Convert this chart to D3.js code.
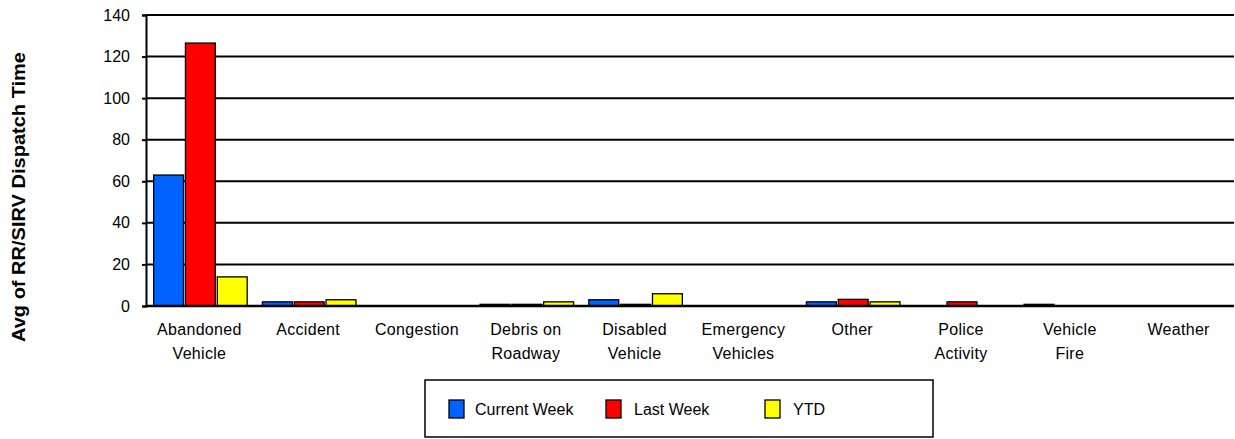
<!DOCTYPE html>
<html><head><meta charset="utf-8">
<script src="https://cdn.jsdelivr.net/npm/d3@7"></script>
<style>body{margin:0;background:#fff}svg{display:block}text{font-family:"Liberation Sans",Arial,sans-serif}</style>
</head><body>
<svg id="c" width="1235" height="439"></svg>
<script>
const categories = [["Abandoned","Vehicle"],["Accident"],["Congestion"],["Debris on","Roadway"],["Disabled","Vehicle"],["Emergency","Vehicles"],["Other"],["Police","Activity"],["Vehicle","Fire"],["Weather"]];
const seriesNames = ["Current Week","Last Week","YTD"];
const currentWeek = [63, 2, 0, 0.8, 3, 0, 2, 0, 0.8, 0];
const lastWeek    = [126.5, 2, 0, 0.8, 0.8, 0, 3.2, 2, 0, 0];
const ytd         = [14, 3, 0, 2, 5.9, 0, 2, 0, 0, 0];
const yTicks = [0,20,40,60,80,100,120,140];
const colors = ["#0062FF","#FF0000","#FFFF00"];
const yTitle = "Avg of RR/SIRV Dispatch Time";

const svg = d3.select("#c");
const L = 146, R = 1234, T = 15, B = 306;
const catKeys = categories.map(c => c.join(" "));
const x0 = d3.scaleBand().domain(catKeys).range([L, R]);
const x1 = d3.scaleBand().domain(seriesNames).range([0, x0.bandwidth()]).paddingInner(0.06).paddingOuter(0.24);
const y = d3.scaleLinear().domain([0, 140]).range([B, T]);
const data = [currentWeek, lastWeek, ytd];

// gridlines
svg.append("g").selectAll("line").data(yTicks).join("line")
  .attr("x1", L).attr("x2", R).attr("y1", d => y(d)).attr("y2", d => y(d))
  .attr("stroke", "#000").attr("stroke-width", 2);

// y axis
const ya = svg.append("g").attr("transform", `translate(${L},0)`)
  .call(d3.axisLeft(y).tickValues(yTicks).tickSize(4).tickPadding(12).tickFormat(d3.format("d")));
ya.select(".domain").attr("stroke", "#000").attr("stroke-width", 2);
ya.selectAll(".tick line").attr("stroke", "#000").attr("stroke-width", 2);
ya.selectAll(".tick text").attr("font-size", 16).attr("fill", "#000").attr("font-family", '"Liberation Sans",Arial,sans-serif');

// bars
const groups = svg.append("g").selectAll("g").data(catKeys).join("g")
  .attr("transform", d => `translate(${x0(d)},0)`);
groups.selectAll("rect").data((d, i) => seriesNames.map((s, j) => ({s, v: data[j][i], j})))
  .join("rect")
  .filter(d => d.v > 0)
  .attr("x", d => x1(d.s)).attr("width", x1.bandwidth())
  .attr("y", d => y(d.v)).attr("height", d => y(0) - y(d.v))
  .attr("fill", d => colors[d.j]).attr("stroke", "#000").attr("stroke-width", 1.3);

// baseline
svg.append("line").attr("x1", L).attr("x2", R).attr("y1", y(0)).attr("y2", y(0))
  .attr("stroke", "#000").attr("stroke-width", 2.5);

// x labels
const xl = svg.append("g");
categories.forEach((c, i) => {
  const cx = x0(catKeys[i]) + x0.bandwidth()/2 - 1;
  const t = xl.append("text").attr("x", cx).attr("y", 335)
    .attr("text-anchor", "middle").attr("font-size", 16).attr("fill", "#000").attr("letter-spacing", 0.3);
  c.forEach((line, k) => t.append("tspan").attr("x", cx).attr("dy", k ? 24 : 0).text(line));
});

// y title
svg.append("text").attr("transform", "translate(24.5,197) rotate(-90)")
  .attr("text-anchor", "middle").attr("font-size", 18).attr("font-weight", "bold")
  .attr("textLength", 290).attr("lengthAdjust", "spacingAndGlyphs").text(yTitle);

// legend
svg.append("rect").attr("x", 425).attr("y", 380).attr("width", 508).attr("height", 57)
  .attr("fill", "#fff").attr("stroke", "#000").attr("stroke-width", 1.5);
const legX = [449, 606, 765];
const lg = svg.append("g").selectAll("g").data(seriesNames).join("g")
  .attr("transform", (d, i) => `translate(${legX[i]},400)`);
lg.append("rect").attr("width", 15).attr("height", 18)
  .attr("fill", (d, i) => colors[i]).attr("stroke", "#000").attr("stroke-width", 1.3);
lg.append("text").attr("x", (d, i) => i === 0 ? 26 : 28).attr("y", 14.5).attr("font-size", 16).attr("fill", "#000").text(d => d);
</script>
</body></html>
